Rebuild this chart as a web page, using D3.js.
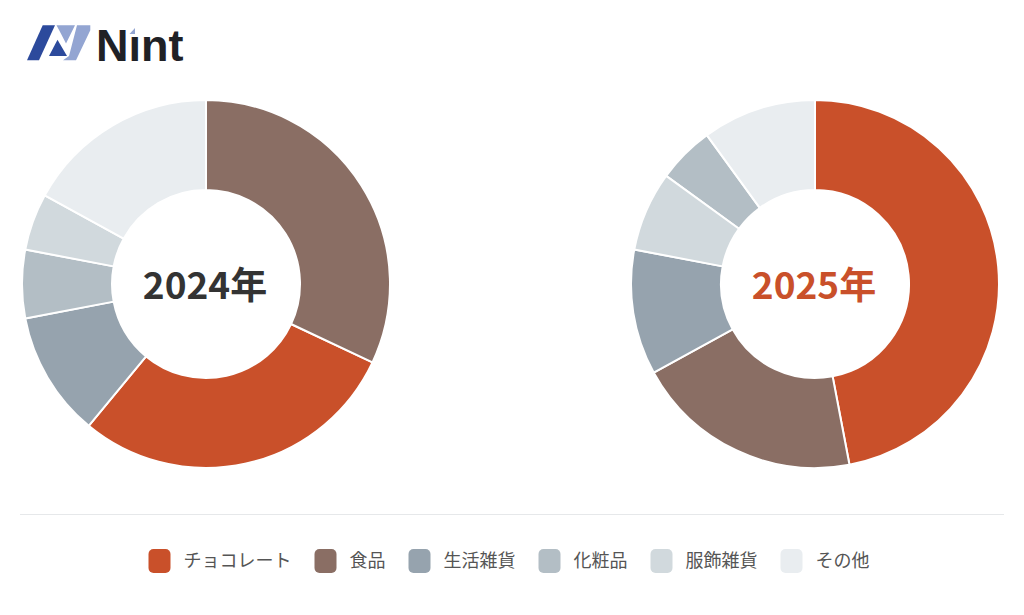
<!DOCTYPE html>
<html>
<head>
<meta charset="utf-8">
<script src="https://cdn.jsdelivr.net/npm/d3@7"></script>
<style>
  html, body { margin: 0; padding: 0; background: #ffffff; }
  svg { display: block; }
</style>
</head>
<body>
<svg id="chart" width="1024" height="615"></svg>
<script>
// Category share (%) by year
const categories = ["チョコレート", "食品", "生活雑貨", "化粧品", "服飾雑貨", "その他"];
const values2024 = [29, 32, 11, 6, 5, 17];
const values2025 = [47, 20, 11, 5, 7, 10];
const years = ["2024年", "2025年"];
const colors = ["#c9502a", "#8a6e64", "#96a3ae", "#b3bec5", "#d1d9dd", "#e9edf0"];

const svg = d3.select("#chart");
const W = 1024;

// ---- logo ----
const logo = svg.append("g").attr("class", "logo")
  .attr("transform", "translate(0,26) scale(1,1.09) translate(0,-26)");
const dark = "#2c4a9c", light = "#93a5d2";
// left stroke
logo.append("path")
  .attr("d", "M42.7,25.3 L55,25.3 L39,57.5 L27,57.5 Z")
  .attr("fill", dark);
// top band + diagonal
logo.append("path")
  .attr("d", "M56.5,25.3 L75,25.3 L66,42 L61,33 Z")
  .attr("fill", light);
// bottom wedge
logo.append("path")
  .attr("d", "M49,53.5 L57.5,38.5 L67,53.5 Z")
  .attr("fill", dark);
// right stroke
logo.append("path")
  .attr("d", "M77,25.3 L90.3,25.3 L90.3,30 L76,57.5 L63,57.5 L69,53.5 Z")
  .attr("fill", light);

const logoText = svg.append("text")
  .attr("x", 96).attr("y", 61)
  .attr("font-family", "'Liberation Sans', Arial, sans-serif")
  .attr("font-weight", 700)
  .attr("font-size", 45)
  .attr("fill", "#1f2126");
logoText.append("tspan").text("N");
logoText.append("tspan").text("ı");
logoText.append("tspan").text("nt");
svg.append("path")
  .attr("d", "M129.5,34 L135,28 L135,34 Z")
  .attr("fill", light);

// ---- donuts ----
const outerR = 184, innerR = 94;
const centers = [[206, 284], [815, 284]];
const labelColors = ["#333333", "#c9502a"];

const color = d3.scaleOrdinal().domain(categories).range(colors);
const pie = d3.pie()
  .value(d => d.value)
  .sort((a, b) => ((a.cat === "その他") - (b.cat === "その他")) || (b.value - a.value));
const arc = d3.arc().innerRadius(innerR).outerRadius(outerR);

[values2024, values2025].forEach((vals, i) => {
  const data = categories.map((c, k) => ({ cat: c, value: vals[k] }));
  const g = svg.append("g").attr("transform", `translate(${centers[i][0]},${centers[i][1]})`);
  g.selectAll("path.slice")
    .data(pie(data))
    .join("path")
    .attr("class", "slice")
    .attr("d", arc)
    .attr("fill", d => color(d.data.cat))
    .attr("stroke", "#ffffff")
    .attr("stroke-width", 2)
    .attr("stroke-linejoin", "round");
  g.append("text")
    .attr("text-anchor", "middle")
    .attr("x", -1)
    .attr("y", 15)
    .attr("font-family", "'Noto Sans CJK JP', 'Noto Sans', sans-serif")
    .attr("font-weight", 700)
    .attr("font-size", 37)
    .attr("fill", labelColors[i])
    .text(years[i]);
});

// ---- divider ----
svg.append("line")
  .attr("x1", 20).attr("x2", 1004)
  .attr("y1", 514.5).attr("y2", 514.5)
  .attr("stroke", "#e6e8ea").attr("stroke-width", 1);

// ---- legend ----
const legend = svg.append("g").attr("class", "legend");
const swW = 22, swH = 24, gapText = 13, gapItem = 23, legendY = 561;
const items = legend.selectAll("g.item")
  .data(categories)
  .join("g").attr("class", "item");
items.append("rect")
  .attr("width", swW).attr("height", swH)
  .attr("y", legendY - swH / 2)
  .attr("rx", 5).attr("ry", 5)
  .attr("fill", d => color(d));
items.append("text")
  .attr("x", swW + gapText)
  .attr("y", legendY)
  .attr("dy", "0.35em")
  .attr("font-family", "'Noto Sans CJK JP', 'Noto Sans', sans-serif")
  .attr("font-size", 18)
  .attr("fill", "#555555")
  .text(d => d);

let widths = [];
items.each(function () {
  const tw = d3.select(this).select("text").node().getComputedTextLength();
  widths.push(swW + gapText + tw);
});
const total = d3.sum(widths) + gapItem * (widths.length - 1);
let x = (W - total) / 2 - 3;
items.attr("transform", (d, k) => {
  const t = `translate(${x},0)`;
  x += widths[k] + gapItem;
  return t;
});
</script>
</body>
</html>
